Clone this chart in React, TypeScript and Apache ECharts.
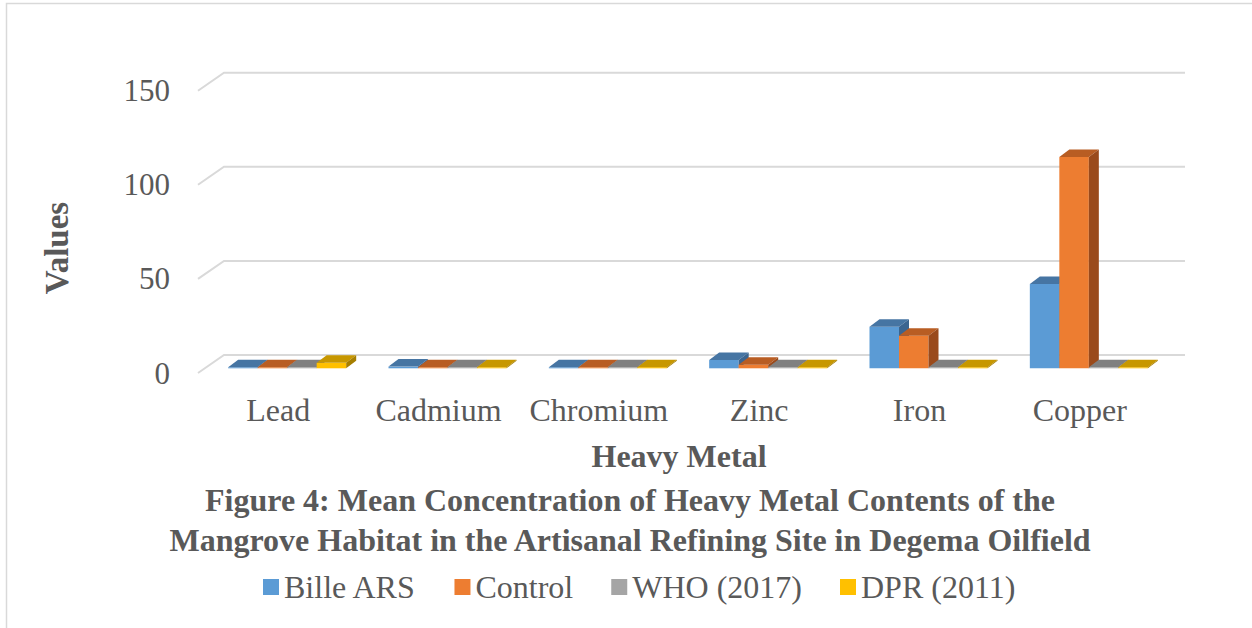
import React, { useEffect, useRef } from 'react';
import * as echarts from 'echarts';

const categories = ['Lead', 'Cadmium', 'Chromium', 'Zinc', 'Iron', 'Copper'];
const seriesNames = ['Bille ARS', 'Control', 'WHO (2017)', 'DPR (2011)'];
const billeArs = [0.3, 0.9, 0.2, 4.4, 22.1, 44.8];
const control = [0.3, 0.4, 0.2, 1.9, 17.3, 112.3];
const who2017 = [0.01, 0.003, 0.05, 0.1, 0.3, 0.2];
const dpr2011 = [2.9, 0.3, 0.6, 0.5, 0.3, 0.3];
const yTicks = [0, 50, 100, 150];
const titleLines = [
  'Figure 4: Mean Concentration of Heavy Metal Contents of the',
  'Mangrove Habitat in the Artisanal Refining Site in Degema Oilfield',
];
const yName = 'Values';
const xName = 'Heavy Metal';

const FRONT = ['#5B9BD5', '#ED7D31', '#A5A5A5', '#FFC000'];
const TOP = ['#4675a3', '#b85d23', '#808080', '#c79700'];
const SIDE = ['#3b6590', '#9a4a1b', '#6e6e6e', '#a67e00'];
const FONT = '"Liberation Serif", "Times New Roman", serif';
const TEXT = '#595959';

export default function App() {
  const ref = useRef<HTMLDivElement>(null);
  useEffect(() => {
    const chart = echarts.init(ref.current!, null, { renderer: 'svg' });
    const values = [billeArs, control, who2017, dpr2011];
    const BAR_W = 29.5, DX = 10, DY = -7.5, OFF_X = 9, OFF_Y = -4.7;

    const makeBar = (s: number) => (params: any, api: any) => {
      const cat = api.value(0);
      const v = api.value(1);
      const p0 = api.coord([cat, 0]);
      const cx = p0[0], y0 = p0[1];
      const yt = api.coord([cat, v])[1];
      const x0 = cx - 2 * BAR_W + s * BAR_W + OFF_X;
      const x1 = x0 + BAR_W;
      const yb = y0 + OFF_Y;
      let ytop = yt + OFF_Y;
      if (yb - ytop < 1) ytop = yb - 1;
      return {
        type: 'group',
        children: [
          { type: 'polygon', shape: { points: [[x0, yb], [x1, yb], [x1, ytop], [x0, ytop]] }, style: { fill: FRONT[s] } },
          { type: 'polygon', shape: { points: [[x0, ytop], [x1, ytop], [x1 + DX, ytop + DY], [x0 + DX, ytop + DY]] }, style: { fill: TOP[s] } },
          { type: 'polygon', shape: { points: [[x1, ytop], [x1 + DX, ytop + DY], [x1 + DX, yb + DY], [x1, yb]] }, style: { fill: SIDE[s] } },
        ],
      };
    };

    const gridSeries = {
      type: 'custom',
      name: 'grid',
      silent: true,
      z: 1,
      data: yTicks.map((t) => [0, t]),
      encode: { x: 0, y: 1 },
      renderItem: (params: any, api: any) => {
        const cs = params.coordSys;
        const y = api.coord([0, api.value(1)])[1];
        const xl = cs.x, xr = cs.x + cs.width;
        return {
          type: 'polyline',
          shape: { points: [[xl, y], [xl + 26, y - 18], [xr + 25, y - 18]] },
          style: { stroke: '#d9d9d9', lineWidth: 2, fill: 'none' },
        };
      },
    };

    const barSeries = seriesNames.map((name, s) => ({
      type: 'custom',
      name,
      z: 2,
      itemStyle: { color: FRONT[s] },
      data: values[s].map((v, i) => [i, v]),
      encode: { x: 0, y: 1 },
      renderItem: makeBar(s),
    }));

    chart.setOption({
      animation: false,
      backgroundColor: '#ffffff',
      grid: { left: 198, right: 92, top: 90.7, bottom: 255, containLabel: false },
      xAxis: {
        type: 'category',
        data: categories,
        axisLine: { show: false },
        axisTick: { show: false },
        axisLabel: { interval: 0, fontSize: 32, color: TEXT, fontFamily: FONT, margin: 21 },
        name: xName,
        nameLocation: 'middle',
        nameGap: 67,
        nameTextStyle: { fontSize: 32, fontWeight: 'bold', color: TEXT, fontFamily: FONT },
      },
      yAxis: {
        type: 'value',
        min: 0,
        max: 150,
        interval: 50,
        splitLine: { show: false },
        axisLine: { show: false },
        axisTick: { show: false },
        axisLabel: { fontSize: 31, color: TEXT, fontFamily: FONT, margin: 28 },
      },
      legend: {
        data: seriesNames,
        top: 566,
        left: 258,
        icon: 'rect',
        itemWidth: 16,
        itemHeight: 16,
        itemGap: 38,
        textStyle: { fontSize: 32, color: TEXT, fontFamily: FONT },
      },
      graphic: [
        {
          type: 'rect',
          silent: true,
          shape: { x: 6.5, y: 3.5, width: 1400, height: 800 },
          style: { fill: 'none', stroke: '#d9d9d9', lineWidth: 1.5 },
        },
        {
          type: 'text',
          x: 57,
          y: 248,
          rotation: Math.PI / 2,
          style: { text: yName, fontSize: 33, fontWeight: 'bold', fill: TEXT, fontFamily: FONT, align: 'center', verticalAlign: 'middle' },
        },
        ...titleLines.map((t, i) => ({
          type: 'text',
          x: 630,
          y: 500 + i * 40,
          style: { text: t, fontSize: 32, fontWeight: 'bold', fill: TEXT, fontFamily: FONT, align: 'center', verticalAlign: 'middle' },
        })),
      ],
      series: [gridSeries, ...barSeries],
    });
    return () => chart.dispose();
  }, []);
  return (
    <div
      ref={ref}
      style={{ position: 'fixed', left: 0, top: 0, width: 1252, height: 628, background: '#fff' }}
    />
  );
}
